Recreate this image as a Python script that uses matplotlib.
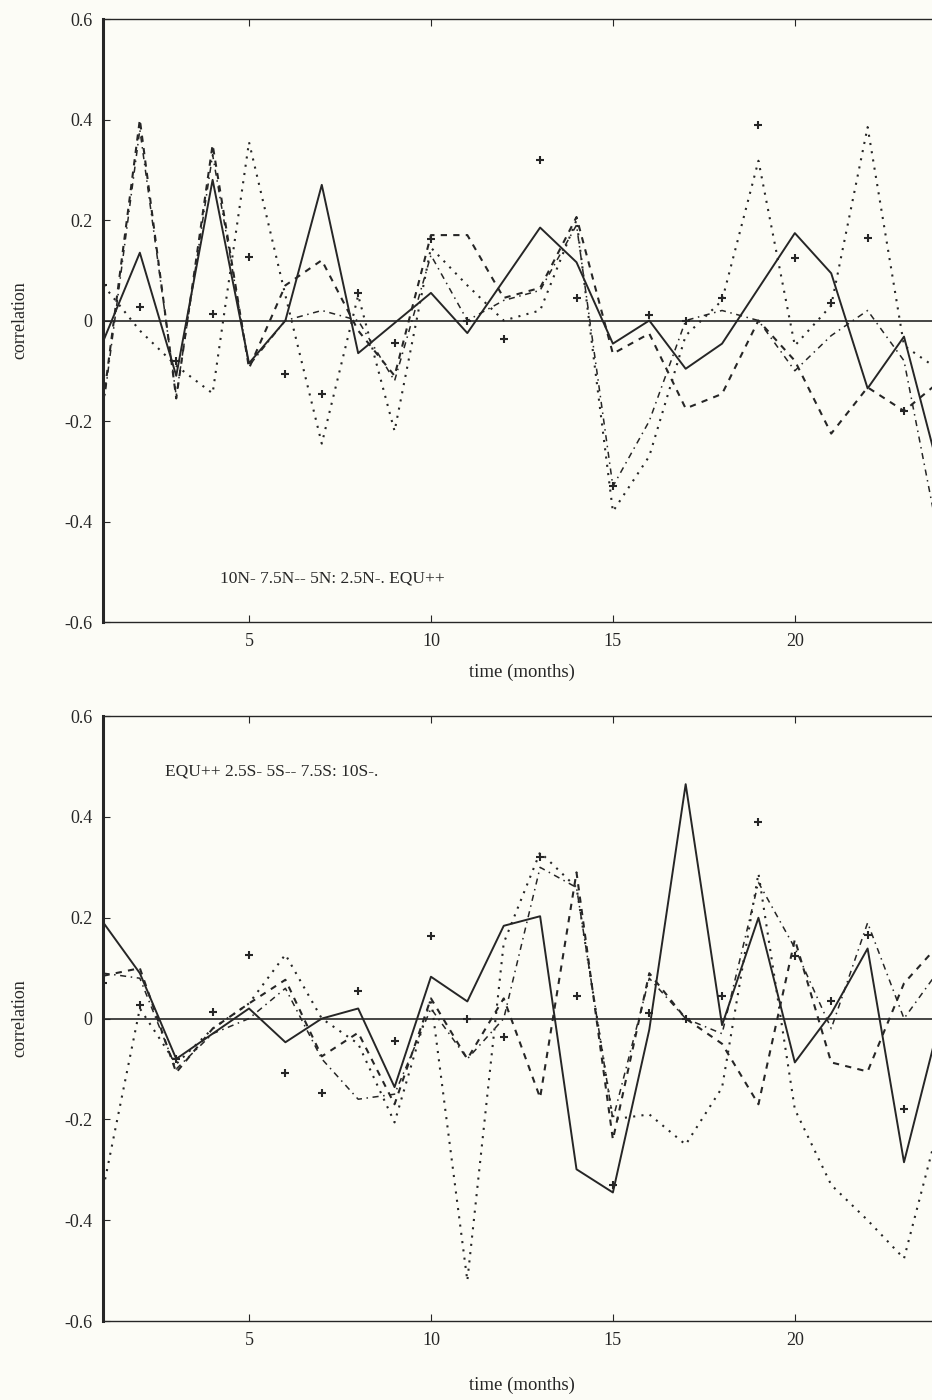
import numpy as np
import matplotlib
matplotlib.use("Agg")
import matplotlib.pyplot as plt

plt.rcParams['font.family'] = ['Liberation Serif', 'DejaVu Serif']

months = np.arange(1, 25)

# upper panel: northern latitudes
n10 = [-0.04, 0.135, -0.11, 0.28, -0.085, 0.0, 0.27, -0.065, -0.005, 0.055, -0.025, 0.08,
       0.185, 0.116, -0.046, 0.0, -0.096, -0.046, 0.064, 0.174, 0.094, -0.135, -0.032, -0.31]
n75 = [-0.16, 0.40, -0.155, 0.35, -0.095, 0.07, 0.12, -0.02, -0.11, 0.17, 0.17, 0.045,
       0.065, 0.206, -0.066, -0.026, -0.175, -0.146, 0.0, -0.08, -0.225, -0.133, -0.18, -0.12]
n5 = [0.07, -0.02, -0.09, -0.145, 0.355, 0.05, -0.245, 0.05, -0.22, 0.145, 0.07, 0.0,
      0.02, 0.2, -0.38, -0.27, -0.03, 0.04, 0.318, -0.05, 0.03, 0.385, -0.05, -0.1]
n25 = [-0.17, 0.38, -0.15, 0.33, -0.09, 0.0, 0.02, 0.0, -0.12, 0.13, 0.0, 0.04,
       0.06, 0.19, -0.33, -0.2, 0.0, 0.02, 0.0, -0.1, -0.03, 0.02, -0.08, -0.45]

# equator (markers only, same in both panels)
equ = [0.07, 0.026, -0.08, 0.013, 0.127, -0.107, -0.147, 0.055, -0.045, 0.163, 0.0, -0.036,
       0.32, 0.044, -0.33, 0.012, 0.0, 0.044, 0.39, 0.125, 0.034, 0.165, -0.18, np.nan]

# lower panel: southern latitudes
s25 = [0.19, 0.09, -0.08, -0.03, 0.02, -0.047, 0.0, 0.02, -0.136, 0.083, 0.034, 0.184,
       0.203, -0.299, -0.345, -0.022, 0.465, -0.013, 0.2, -0.087, 0.01, 0.139, -0.285, 0.0]
s5 = [0.085, 0.10, -0.107, -0.02, 0.03, 0.077, -0.075, -0.028, -0.17, 0.04, -0.08, 0.04,
      -0.157, 0.29, -0.24, 0.09, 0.0, -0.05, -0.17, 0.157, -0.087, -0.105, 0.07, 0.15]
s75 = [-0.335, 0.02, -0.09, -0.02, 0.03, 0.127, 0.0, -0.05, -0.206, 0.04, -0.52, 0.15,
       0.33, 0.26, -0.2, -0.19, -0.25, -0.137, 0.288, -0.18, -0.33, -0.4, -0.476, -0.2]
s10 = [0.09, 0.08, -0.1, -0.03, 0.0, 0.06, -0.08, -0.16, -0.15, 0.02, -0.08, 0.0,
       0.3, 0.26, -0.2, 0.08, 0.0, -0.03, 0.27, 0.14, -0.02, 0.19, 0.0, 0.1]

yticks = [-0.6, -0.4, -0.2, 0, 0.2, 0.4, 0.6]
ytick_labels = ['-0.6', '-0.4', '-0.2', '0', '0.2', '0.4', '0.6']
xticks = [5, 10, 15, 20]

ink = '#262626'
paper = '#fcfcf6'

fig = plt.figure(figsize=(9.32, 14), dpi=100, facecolor=paper)
ax1 = fig.add_axes([0.111, 0.5557, 0.898, 0.4307])
ax2 = fig.add_axes([0.111, 0.0564, 0.898, 0.4321])


def draw(ax, solid, dashed, dotted, dashdot, label, lx, ly, xpad):
    ax.set_facecolor(paper)
    ax.axhline(0, color=ink, lw=1.2)
    ax.plot(months, solid, '-', color=ink, lw=1.4)
    ax.plot(months, dashed, color=ink, lw=1.5, linestyle=(0, (3, 3)))
    ax.plot(months, dotted, color=ink, lw=1.5, linestyle=(0, (1, 3)))
    ax.plot(months, dashdot, color=ink, lw=1.1, linestyle=(0, (4, 3, 1, 3)))
    ax.plot(months, equ, '+', color=ink, ms=6, mew=1.5)
    ax.set_xlim(1, 24)
    ax.set_ylim(-0.6, 0.6)
    ax.set_xticks(xticks)
    ax.set_yticks(yticks)
    ax.set_yticklabels(ytick_labels)
    ax.tick_params(direction='in', length=5, color=ink, labelcolor=ink,
                   labelsize=13, top=True, right=True, pad=8)
    for s in ax.spines.values():
        s.set_color(ink)
        s.set_linewidth(1.0)
    ax.spines['left'].set_linewidth(2.2)
    ax.set_xlabel('time (months)', fontsize=13.5, color=ink, labelpad=xpad)
    ax.set_ylabel('correlation', fontsize=13, color=ink, labelpad=26)
    ax.text(lx, ly, label, fontsize=12.5, color=ink, va='center')


draw(ax1, n10, n75, n5, n25, '10N- 7.5N-- 5N: 2.5N-. EQU++', 4.2, -0.514, 10)
draw(ax2, s25, s5, s75, s10, 'EQU++ 2.5S- 5S-- 7.5S: 10S-.', 2.7, 0.49, 20)

fig.savefig('out.png', dpi=100, facecolor=paper)
